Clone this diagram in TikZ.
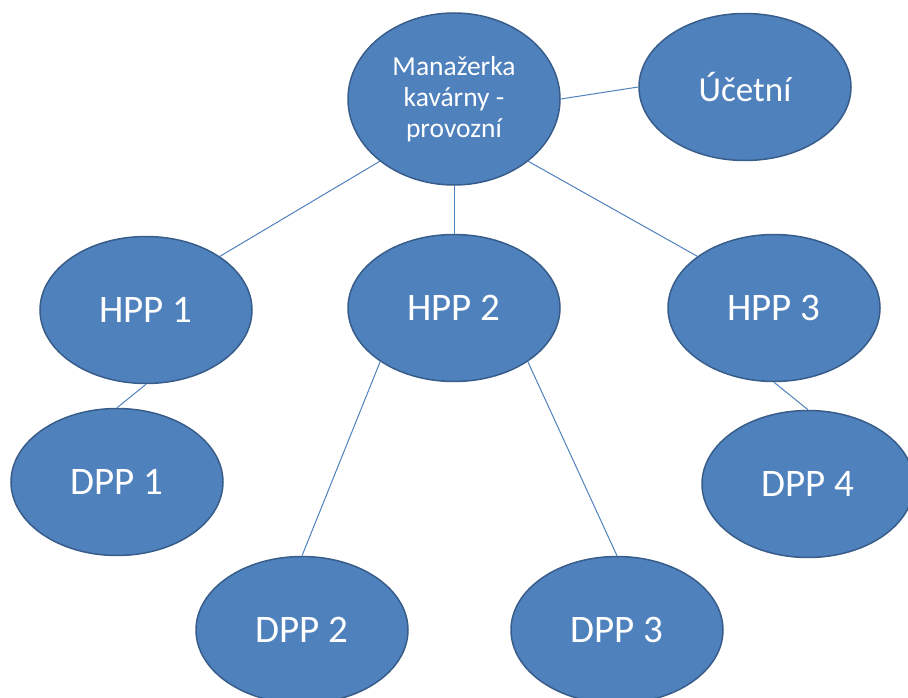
\documentclass[tikz,border=0pt]{standalone}
\usepackage{fontspec}
\setmainfont{Carlito}
\usetikzlibrary{shapes.geometric}
\usetikzlibrary{positioning}
\definecolor{ovalblue}{HTML}{4F81BD}
\definecolor{ovaledge}{HTML}{385D8A}
\tikzset{oval/.style={draw=ovaledge, line width=1.5pt, fill=ovalblue, ellipse, minimum width=212pt, minimum height=147pt, inner sep=0pt, text=white, font=\fontsize{39}{46}\selectfont}}
\tikzset{ln/.style={draw=ovalblue, line width=1pt}}

\begin{document}
\begin{tikzpicture}[x=1pt,y=-1pt]
\useasboundingbox (0,0) rectangle (908,698);

\node[oval, minimum height=172pt, align=center, font=\fontsize{27.5}{31}\selectfont] (man) at (454,99) {Manažerka\\kavárny -\\provozní};
\node[oval, font=\fontsize{35}{40}\selectfont] (uc) at (745,87) {Účetní};

\node[oval] (hpp1) at (146,310) {HPP 1};
\node[oval] (hpp2) at (454,308) {HPP 2};
\node[oval] (hpp3) at (774,308) {HPP 3};

\node[oval] (dpp1) at (117,482) {DPP 1};
\node[oval] (dpp2) at (302,630) {DPP 2};
\node[oval] (dpp3) at (617,630) {DPP 3};
\node[oval] (dpp4) at (808,484) {DPP 4};

% top level
\draw[ln] (man.east) -- (uc.west);
\draw[ln] (man.220) -- (hpp1.36);
\draw[ln] (man.south) -- (hpp2.north);
\draw[ln] (man.320) -- (hpp3.146);

% second level
\draw[ln] (hpp1.south) -- (dpp1.north);
\draw[ln] (hpp2.216) -- (dpp2.north);
\draw[ln] (hpp2.324) -- (dpp3.north);
\draw[ln] (hpp3.south) -- (dpp4.north);
\end{tikzpicture}
\end{document}
